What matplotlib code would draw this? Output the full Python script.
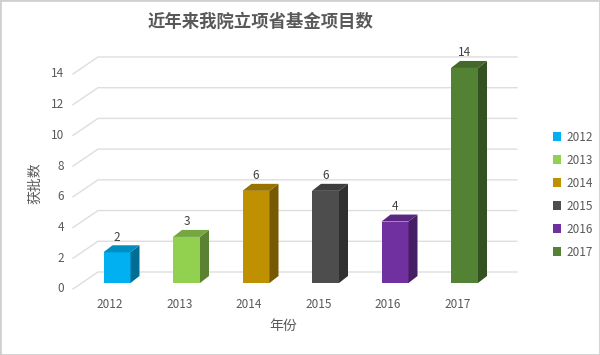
import matplotlib
matplotlib.use('Agg')
import matplotlib.pyplot as plt
from matplotlib.patches import Polygon, Patch, Rectangle
import matplotlib.colors as mcolors

plt.rcParams['font.family'] = ['Noto Sans CJK SC', 'DejaVu Sans']

years = ['2012', '2013', '2014', '2015', '2016', '2017']
counts = [2, 3, 6, 6, 4, 14]
colors = ['#00B0F0', '#92D050', '#BF9000', '#4D4D4D', '#7030A0', '#548235']
yticks = [0, 2, 4, 6, 8, 10, 12, 14]

title = '近年来我院立项省基金项目数'
xlabel = '年份'
ylabel = '获批数'


def shade(c, f):
    r, g, b = mcolors.to_rgb(c)
    return (r * f, g * f, b * f)


def main():
    fig = plt.figure(figsize=(6, 3.55), dpi=100)
    W, H = 600, 355
    # pixel scale of the plot area
    xpx = 69.5   # px per category
    ypx = 15.36  # px per unit
    x0px, y0px = 117, 283  # first bar centre / baseline in pixels
    left, right, top, bottom = 60, 530, 50, 300
    ax = fig.add_axes([left / W, 1 - bottom / H, (right - left) / W, (bottom - top) / H])
    ax.set_xlim((left - x0px) / xpx, (right - x0px) / xpx)
    ax.set_ylim((y0px - bottom) / ypx, (y0px - top) / ypx)
    ax.axis('off')

    tc = '#595959'
    grid_c = '#dedede'
    # gridlines: slanted floor edge + back wall
    fx = (73 - x0px) / xpx
    bx = (98 - x0px) / xpx
    ex = (517 - x0px) / xpx
    fdy = -6 / ypx
    bdy = 11 / ypx
    for v in yticks:
        ax.plot([fx, bx, ex], [v + fdy, v + bdy, v + bdy], color=grid_c, lw=1, zorder=1)
        ax.text((64 - x0px) / xpx, v + fdy, str(v), ha='right', va='center',
                fontsize=8.5, color=tc)

    w = 27 / xpx
    ddx = 9 / xpx
    ddy = 7 / ypx
    for i, (v, c) in enumerate(zip(counts, colors)):
        ax.bar(i, v, width=w, color=c, zorder=3, linewidth=0)
        side = [(i + w / 2, 0), (i + w / 2 + ddx, ddy), (i + w / 2 + ddx, v + ddy), (i + w / 2, v)]
        topf = [(i - w / 2, v), (i + w / 2, v), (i + w / 2 + ddx, v + ddy), (i - w / 2 + ddx, v + ddy)]
        ax.add_patch(Polygon(side, closed=True, color=shade(c, 0.62), lw=0, zorder=3))
        ax.add_patch(Polygon(topf, closed=True, color=shade(c, 0.8), lw=0, zorder=3))
        ax.text(i, v + ddy + 1.5 / ypx, str(v), ha='center', va='bottom', fontsize=8.5, color='#404040')
        ax.text(i - 7 / xpx, (y0px - 305) / ypx, years[i], ha='center', va='center',
                fontsize=8.5, color=tc, clip_on=False)

    fig.text(283 / W, 1 - 326 / H, xlabel, ha='center', va='center', fontsize=10, color=tc)
    fig.text(35 / W, 1 - 183 / H, ylabel, ha='center', va='center', rotation=90, fontsize=10, color=tc)
    fig.text(261 / W, 1 - 22 / H, title, ha='center', va='center', fontsize=12.5,
             fontweight='bold', color='#595959')

    handles = [Patch(facecolor=c, edgecolor='none') for c in colors]
    fig.legend(handles, years, loc='upper left', bbox_to_anchor=(542 / W, 1 - 120 / H),
               frameon=False, fontsize=8.5, handlelength=0.75, handleheight=0.75,
               handletextpad=0.4, labelspacing=0.85, labelcolor=tc)

    fig.patches.append(Rectangle((0, 0), 1, 1, transform=fig.transFigure, fill=False,
                                 edgecolor='#d0d0d0', lw=2))
    fig.savefig('out.png', dpi=100)


if __name__ == '__main__':
    main()
